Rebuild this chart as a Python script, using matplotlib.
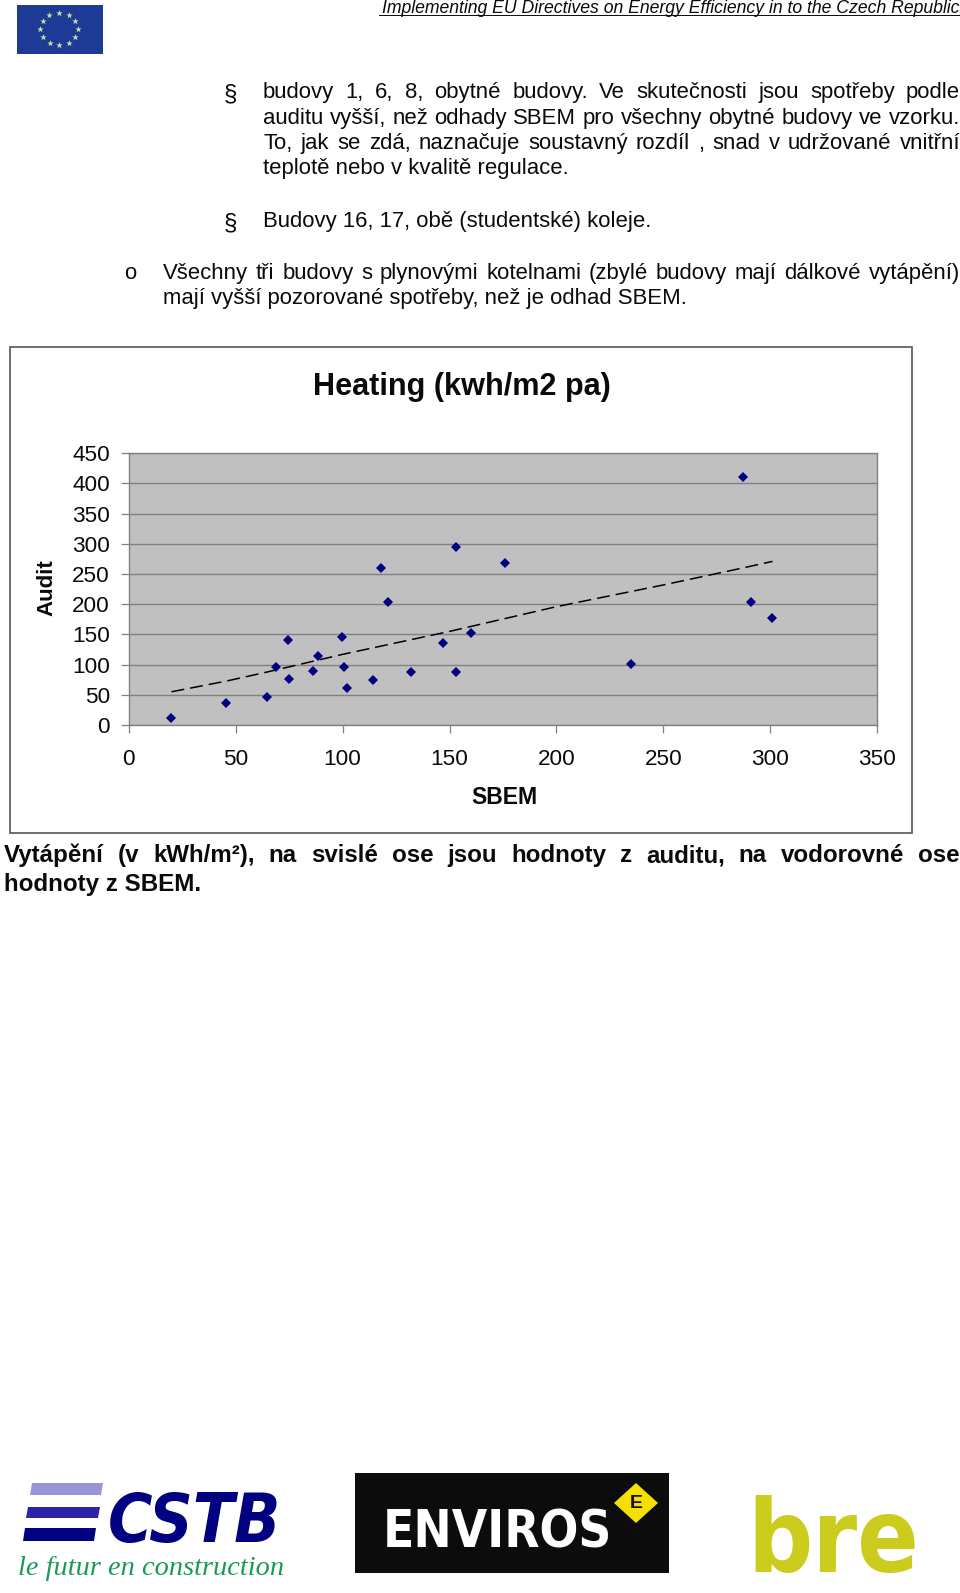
import numpy as np
import matplotlib
matplotlib.use('Agg')
import matplotlib.pyplot as plt
from matplotlib.patches import Rectangle, Polygon

plt.rcParams['font.family'] = ['Liberation Sans', 'DejaVu Sans']

# data
sbem = [19.8, 45.7, 64.5, 68.7, 74.3, 74.8, 86, 88.5, 99.9, 100.7, 102, 114,
        118, 121, 132, 147, 153, 153, 160, 176, 235, 287, 291, 301]
audit = [11.6, 37, 46, 95.5, 141, 77, 89, 114, 145, 95.5, 61, 75,
         260, 204, 87, 135, 295, 87, 152, 269, 100.5, 411, 204, 178]
trend_x = [20, 46, 65, 100, 150, 200, 250, 287, 301]
trend_y = [55, 73, 88, 117, 155, 196, 232, 260, 271]
x_ticks = [0, 50, 100, 150, 200, 250, 300, 350]
y_ticks = [0, 50, 100, 150, 200, 250, 300, 350, 400, 450]

header = 'Implementing EU Directives on Energy Efficiency in to the Czech Republic'
para1 = ['budovy 1, 6, 8, obytné budovy. Ve skutečnosti jsou spotřeby podle',
         'auditu vyšší, než odhady SBEM pro všechny obytné budovy ve vzorku.',
         'To, jak se zdá, naznačuje soustavný rozdíl , snad v  udržované vnitřní']
para1_last = 'teplotě nebo v kvalitě regulace.'
para2 = 'Budovy 16, 17, obě (studentské) koleje.'
para3 = 'Všechny tři budovy s plynovými kotelnami (zbylé budovy mají dálkové vytápění)'
para3_last = 'mají vyšší pozorované spotřeby, než je odhad SBEM.'
caption = 'Vytápění (v kWh/m²), na svislé ose jsou hodnoty z auditu, na vodorovné ose'
caption_last = 'hodnoty z SBEM.'

W, H = 960, 1593
fig = plt.figure(figsize=(W / 100, H / 100), dpi=100, facecolor='white')

# page overlay in pixel coords
page = fig.add_axes([0, 0, 1, 1])
page.set_xlim(0, W)
page.set_ylim(H, 0)
page.axis('off')
rend = fig.canvas.get_renderer()


def justified(s, x0, x1, y, **kw):
    # spread the words between x0 and x1
    words = s.split()
    arts = [page.text(x0, y, w, va='baseline', **kw) for w in words]
    widths = [a.get_window_extent(rend).width for a in arts]
    gap = (x1 - x0 - sum(widths)) / (len(words) - 1)
    x = x0
    for a, w in zip(arts, widths):
        a.set_x(x)
        x += w + gap


def logo_text(s, x0, x1, y, **kw):
    # size a logo word so that it spans x0..x1
    t = page.text(x0, y, s, va='baseline', fontsize=40, **kw)
    t.set_fontsize(40 * (x1 - x0) / t.get_window_extent(rend).width)
    return t


body = dict(fontsize=15.92, color='#0a0a0a')
sect = dict(fontsize=17.5, color='#0a0a0a')
page.text(960, 13, header, ha='right', va='baseline', fontsize=12.73, style='italic', color='#0a0a0a')
page.plot([379, 960], [15, 15], color='#0a0a0a', lw=0.7)

page.text(224, 100, '§', va='baseline', **sect)
for s, y in zip(para1, [98, 124, 149]):
    justified(s, 263, 960, y, **body)
page.text(263, 174, para1_last, va='baseline', **body)
page.text(224, 229, '§', va='baseline', **sect)
page.text(263, 227, para2, va='baseline', **body)
page.text(124, 279, 'o', va='baseline', **body)
justified(para3, 163, 960, 279, **body)
page.text(163, 304, para3_last, va='baseline', **body)

# chart frame
page.add_patch(Rectangle((10, 347), 902, 486, fc='white', ec='#555555', lw=1.2))

cap = dict(fontsize=17.4, fontweight='bold', color='#0a0a0a')
justified(caption, 4, 960, 862, **cap)
page.text(4, 891, caption_last, va='baseline', **cap)

# EU flag
page.add_patch(Rectangle((17, 5), 86, 48.5, fc='#1c3a96', ec='none'))
ang = np.arange(12) * np.pi / 6
page.scatter(59 + 19 * np.cos(ang), 29 + 16 * np.sin(ang), marker='*', s=24, color='#c8e0a0', lw=0)

# CSTB logo
narrow = dict(family='DejaVu Sans', stretch='condensed', fontweight='bold')
page.add_patch(Polygon([(32, 1483), (103, 1483), (101, 1495), (30, 1495)], fc='#9a94d8', ec='none'))
page.add_patch(Polygon([(28, 1507), (100, 1507), (98, 1518), (26, 1518)], fc='#2e22a8', ec='none'))
page.add_patch(Polygon([(25, 1528), (96, 1528), (94, 1541), (23, 1541)], fc='#000080', ec='none'))
logo_text('CSTB', 108, 281, 1542, color='#000080', style='italic', **narrow)
page.text(18, 1575, 'le futur en construction', fontsize=20.4, style='italic', color='#1a9a5a',
          family='Liberation Serif', va='baseline')

# ENVIROS logo
page.add_patch(Rectangle((354.5, 1473), 314, 100, fc='#0c0c0c', ec='none'))
logo_text('ENVIROS', 383, 612, 1547, color='white', **narrow)
page.add_patch(Polygon([(636, 1483), (658, 1503), (636, 1523), (614, 1503)], fc='#f5e000', ec='none'))
page.text(636, 1503, 'E', fontsize=14, fontweight='bold', color='#111111', ha='center', va='center')

# bre logo
logo_text('bre', 747, 919, 1572, color='#cccc1e', **narrow)

# scatter plot
ax = fig.add_axes([128.7 / W, 1 - 725 / H, (877.3 - 128.7) / W, (725 - 453.3) / H])
ax.set_facecolor('#c0c0c0')
ax.set_xlim(0, 350)
ax.set_ylim(0, 450)
ax.set_xticks(x_ticks)
ax.set_yticks(y_ticks)
ax.grid(axis='y', color='#808080', lw=1.0)
ax.set_axisbelow(True)
for sp in ax.spines.values():
    sp.set_color('#808080')
    sp.set_linewidth(1.0)
ax.tick_params(axis='both', color='#808080', length=5.5, width=0.9, labelsize=16.2, labelcolor='#0a0a0a')
ax.tick_params(axis='x', pad=11.5)
ax.tick_params(axis='y', pad=8)

ax.plot(trend_x, trend_y, color='black', lw=1.1, dashes=(8.5, 3.9), zorder=3)
ax.plot(sbem, audit, 'D', color='#000080', ms=5, mew=0, zorder=4)

page.text(462, 395, 'Heating (kwh/m2 pa)', ha='center', va='baseline', fontsize=22.1, fontweight='bold', color='#0a0a0a')
page.text(504, 804, 'SBEM', ha='center', va='baseline', fontsize=16.6, fontweight='bold', color='#0a0a0a')
page.text(47, 588, 'Audit', ha='center', va='center', rotation=90, fontsize=16, fontweight='bold', color='#0a0a0a')

fig.savefig('out.png', dpi=100)
